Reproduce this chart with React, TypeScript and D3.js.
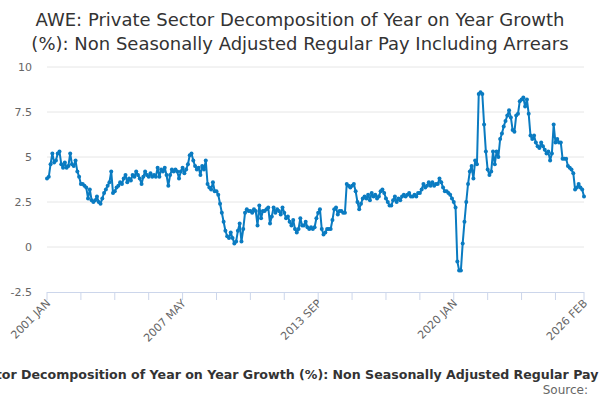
import * as d3 from 'd3'

const startYear = 2001
const values: number[] = [
  // 2001
  3.8, 3.9, 4.6, 5.2, 4.7, 4.8, 5.2, 5.3, 4.6, 4.4, 4.7, 4.4,
  // 2002
  4.5, 5.2, 4.6, 4.5, 4.8, 4.2, 3.9, 3.5, 3.5, 3.4, 3.3, 2.7,
  // 2003
  3.2, 2.6, 2.5, 2.6, 2.8, 2.5, 2.4, 2.7, 3.0, 3.2, 3.4, 3.6,
  // 2004
  4.2, 3.0, 3.1, 3.3, 3.4, 3.6, 3.5, 3.8, 4.0, 3.6, 3.8, 3.7,
  // 2005
  4.0, 3.9, 4.2, 4.0, 3.8, 3.5, 3.9, 4.2, 4.0, 3.9, 4.1, 3.9,
  // 2006
  4.0, 3.9, 4.4, 3.9, 4.3, 4.2, 4.4, 4.0, 3.4, 4.0, 4.3, 4.2,
  // 2007
  4.3, 4.2, 3.8, 4.2, 4.4, 4.1, 4.3, 4.6, 5.1, 5.2, 4.8, 4.5,
  // 2008
  4.3, 4.4, 4.0, 4.5, 4.3, 4.8, 3.5, 3.3, 3.2, 3.6, 3.1, 3.1,
  // 2009
  2.9, 2.4, 1.9, 1.4, 0.9, 0.6, 0.5, 0.8, 0.5, 0.2, 0.3, 0.9,
  // 2010
  1.3, 0.3, 1.0, 1.9, 2.1, 2.0, 2.0, 1.9, 2.1, 2.0, 1.2, 2.3,
  // 2011
  1.6, 2.0, 2.0, 2.1, 2.2, 1.3, 1.7, 2.2, 1.9, 2.1, 2.0, 1.8,
  // 2012
  2.2, 1.9, 1.6, 1.7, 1.4, 1.2, 1.5, 1.0, 0.8, 1.0, 1.6, 1.2,
  // 2013
  1.2, 1.4, 1.1, 1.0, 1.1, 1.0, 1.1, 1.6, 1.9, 2.1, 1.0, 0.7,
  // 2014
  0.8, 1.0, 1.0, 1.0, 1.5, 2.1, 2.2, 1.8, 2.0, 2.0, 1.9, 1.9,
  // 2015
  3.5, 3.4, 3.3, 3.4, 3.5, 3.1, 2.5, 2.1, 2.4, 2.7, 2.8, 2.7,
  // 2016
  2.9, 2.6, 3.0, 2.8, 2.9, 2.7, 2.8, 3.1, 3.2, 3.0, 2.7, 2.5,
  // 2017
  2.3, 2.3, 2.6, 2.8, 2.5, 2.7, 2.6, 2.8, 2.9, 2.8, 2.9, 3.0,
  // 2018
  2.8, 2.8, 2.9, 2.8, 3.0, 3.0, 3.2, 3.5, 3.3, 3.4, 3.6, 3.4,
  // 2019
  3.6, 3.4, 3.5, 3.5, 3.8, 3.6, 3.3, 3.1, 3.1, 3.0, 2.9, 2.7,
  // 2020
  2.5, 2.2, -0.8, -1.3, -1.3, 0.2, 1.4, 2.5, 3.5, 4.2, 4.5, 3.8,
  // 2021
  4.8, 4.6, 8.5, 8.6, 8.5, 6.8, 5.3, 4.3, 4.0, 4.2, 5.3, 4.6,
  // 2022
  5.3, 5.0, 6.0, 6.3, 6.7, 7.0, 7.3, 7.6, 7.2, 6.5, 6.4, 7.3,
  // 2023
  7.4, 8.1, 8.2, 8.3, 7.8, 8.2, 7.4, 6.2, 6.0, 6.2, 5.8, 5.6,
  // 2024
  5.5, 5.8, 5.6, 5.4, 5.2, 5.3, 4.8, 5.2, 6.8, 5.8, 6.0, 5.8,
  // 2025
  5.8, 4.9, 4.9, 4.9, 4.5, 4.4, 4.3, 4.1, 3.2, 3.3, 3.5, 3.3,
  // 2026
  3.2, 2.8,
]
const yTicks = [-2.5, 0, 2.5, 5, 7.5, 10]
const labelMonths = [0, 76, 152, 228, 301]
const monthNames = ['JAN', 'FEB', 'MAR', 'APR', 'MAY', 'JUN', 'JUL', 'AUG', 'SEP', 'OCT', 'NOV', 'DEC']
const titleLines = [
  'AWE: Private Sector Decomposition of Year on Year Growth',
  '(%): Non Seasonally Adjusted Regular Pay Including Arrears',
]
const axisTitle = 'AWE: Private Sector Decomposition of Year on Year Growth (%): Non Seasonally Adjusted Regular Pay Including Arrears'

const monthLabel = (m: number) => `${startYear + Math.floor(m / 12)} ${monthNames[m % 12]}`

export default function App() {
  const width = 600
  const height = 400
  const left = 47
  const right = 584
  const top = 67
  const bottom = 292
  const font = '"DejaVu Sans", sans-serif'

  const x = d3.scaleLinear().domain([0, values.length - 1]).range([left, right])
  const y = d3.scaleLinear().domain([-2.5, 10]).range([bottom, top])
  const line = d3.line<number>().x((_, i) => x(i)).y((d) => y(d))

  const tickMonths = d3.range(0, values.length, 19).concat([values.length - 1])

  return (
    <svg width={width} height={height} style={{ position: 'absolute', left: 0, top: 0 }}>
      <rect width={width} height={height} fill="#fff" />
      {titleLines.map((t, i) => (
        <text key={i} x={300} y={26 + i * 24} textAnchor="middle" fontFamily={font} fontSize={18} fill="#333">
          {t}
        </text>
      ))}
      {yTicks.map((t) => (
        <g key={t}>
          {t > -2.5 && <line x1={left} x2={right} y1={y(t)} y2={y(t)} stroke="#e6e6e6" />}
          <text x={32} y={y(t) + 4} textAnchor="end" fontFamily={font} fontSize={11} fill="#666">
            {t}
          </text>
        </g>
      ))}
      <line x1={left} x2={right} y1={bottom + 0.5} y2={bottom + 0.5} stroke="#ccd6eb" />
      {tickMonths.map((m) => (
        <line key={m} x1={x(m)} x2={x(m)} y1={bottom} y2={bottom + 8} stroke="#ccd6eb" />
      ))}
      {labelMonths.map((m) => (
        <text
          key={m}
          transform={`translate(${x(m) + 4},${bottom + 12}) rotate(-45)`}
          textAnchor="end"
          fontFamily={font}
          fontSize={11}
          fill="#666"
        >
          {monthLabel(m)}
        </text>
      ))}
      <path d={line(values) ?? ''} fill="none" stroke="#0a7bc1" strokeWidth={2} strokeLinejoin="round" />
      {values.map((v, i) => (
        <circle key={i} cx={x(i)} cy={y(v)} r={2} fill="#0a7bc1" />
      ))}
      <text x={300} y={379} textAnchor="middle" fontFamily={font} fontSize={12.6} fontWeight="bold" fill="#333">
        {axisTitle}
      </text>
      <text x={588} y={394} textAnchor="end" fontFamily={font} fontSize={12} fill="#666">
        Source:
      </text>
    </svg>
  )
}
